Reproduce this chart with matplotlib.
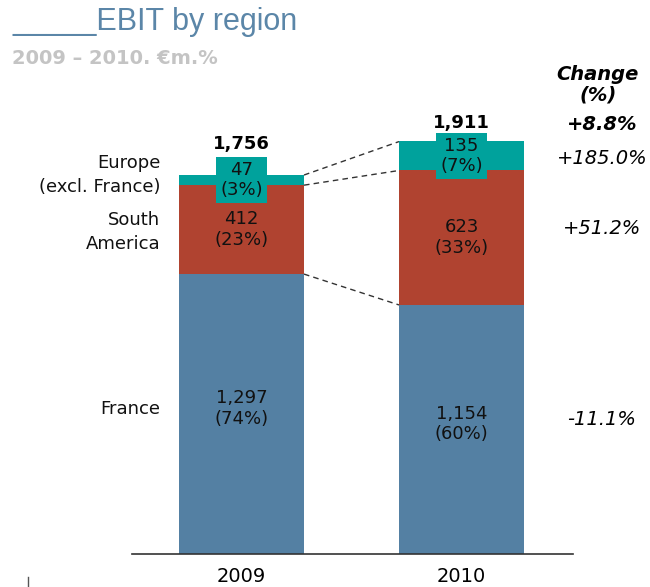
import matplotlib
matplotlib.use("Agg")
import matplotlib.pyplot as plt
from matplotlib.lines import Line2D

plt.rcParams['font.family'] = ['DejaVu Sans']

years = ['2009', '2010']
regions = ['France', 'South\nAmerica', 'Europe\n(excl. France)']
france = [1297, 1154]
south_america = [412, 623]
europe = [47, 135]
shares_france = ['74%', '60%']
shares_sa = ['23%', '33%']
shares_europe = ['3%', '7%']
totals = [1756, 1911]
changes = ['-11.1%', '+51.2%', '+185.0%']
total_change = '+8.8%'

blue = '#5480a3'
red = '#b04330'
teal = '#00a29c'

fig = plt.figure(figsize=(6.5, 5.87), dpi=100)
# axes: baseline at 554 px, axis from x=132 to 573 px
ax = fig.add_axes([132 / 650, 33 / 587, 441 / 650, 554 / 587])
ax.set_xlim(-0.498, 1.507)
ax.set_ylim(0, 2567)

x = [0, 1]
w = 0.568
sa_bottom = france
eu_bottom = [f + s for f, s in zip(france, south_america)]

ax.bar(x, france, width=w, color=blue, zorder=2)
ax.bar(x, south_america, width=w, bottom=sa_bottom, color=red, zorder=2)
ax.bar(x, europe, width=w, bottom=eu_bottom, color=teal, zorder=2)

# dashed connectors between bars
for y0, y1 in [(france[0], france[1]), (eu_bottom[0], eu_bottom[1]), (totals[0], totals[1])]:
    ax.plot([x[0] + w / 2, x[1] - w / 2], [y0, y1], color='#333333',
            linestyle=(0, (4, 3)), linewidth=1, zorder=1)

fs = 13
for i in range(2):
    ax.text(x[i], france[i] / 2 + 25, f'{france[i]:,}\n({shares_france[i]})',
            ha='center', va='center', fontsize=fs, linespacing=1.2, color='#111111', zorder=3)
    ax.text(x[i], sa_bottom[i] + south_america[i] / 2, f'{south_america[i]:,}\n({shares_sa[i]})',
            ha='center', va='center', fontsize=fs, linespacing=1.2, color='#111111', zorder=3)
    ax.text(x[i], eu_bottom[i] + europe[i] / 2, f'{europe[i]:,}\n({shares_europe[i]})',
            ha='center', va='center', fontsize=fs, linespacing=1.1, color='#111111', zorder=3,
            bbox=dict(boxstyle='square,pad=0.22', facecolor=teal, edgecolor='none'))

ax.text(x[0], 1900, f'{totals[0]:,}', ha='center', va='center', fontsize=fs, fontweight='bold')
ax.text(x[1], 1995, f'{totals[1]:,}', ha='center', va='center', fontsize=fs, fontweight='bold')

# region labels on the left
mids_2009 = [france[0] / 2 + 25, sa_bottom[0] + south_america[0] / 2 - 10, eu_bottom[0] + europe[0] / 2 + 25]
for lab, y in zip(regions, mids_2009):
    ax.text(-0.37, y, lab, ha='right', va='center', fontsize=fs, linespacing=1.4,
            color='#111111', clip_on=False)

# change column
xc = 1.639
mids_2010 = [france[1] / 2 + 45, sa_bottom[1] + south_america[1] / 2 + 45, eu_bottom[1] + europe[1] / 2 - 10]
for lab, y in zip(changes, mids_2010):
    ax.text(xc, y, lab, ha='center', va='center', fontsize=14, style='italic', clip_on=False)
ax.text(xc, 1990, total_change, ha='center', va='center', fontsize=14,
        style='italic', fontweight='bold', clip_on=False)
ax.text(xc - 0.02, 2175, 'Change\n(%)', ha='center', va='center', fontsize=14,
        style='italic', fontweight='bold', linespacing=1.1, clip_on=False)

for s in ['top', 'right', 'left']:
    ax.spines[s].set_visible(False)
ax.spines['bottom'].set_linewidth(1.2)
ax.spines['bottom'].set_color('#333333')
ax.set_yticks([])
ax.set_xticks(x)
ax.set_xticklabels(years, fontsize=14)
ax.tick_params(axis='x', length=0, pad=9)

fig.text(12 / 650, 1 - 22 / 587, '_____EBIT by region', fontsize=22, color='#5b86a8',
         ha='left', va='center', family='Liberation Sans')
fig.text(12 / 650, 1 - 58 / 587, '2009 \u2013 2010. \u20acm.%', fontsize=14, color='#c4c4c4',
         fontweight='bold', ha='left', va='center')
fig.add_artist(Line2D([28 / 650, 28 / 650], [0, 10 / 587], color='#555555', linewidth=1))

fig.savefig('out.png', dpi=100)
